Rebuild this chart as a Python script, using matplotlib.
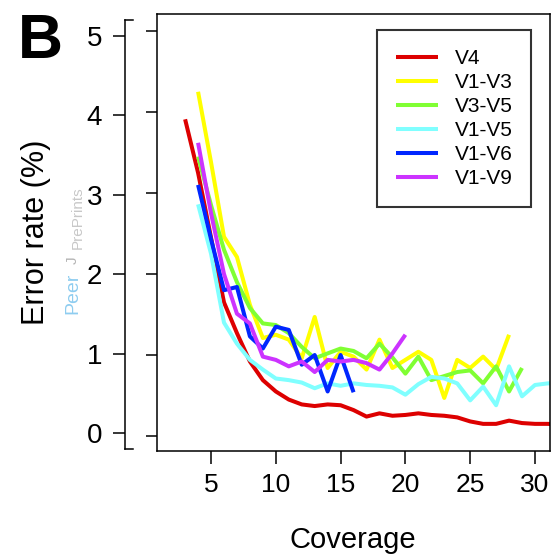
import matplotlib.pyplot as plt

plt.rcParams['font.family'] = ['Liberation Sans', 'DejaVu Sans']

# error rate (%) per coverage
cov_v4 = list(range(3, 33))
err_v4 = [3.91, 3.25, 2.45, 1.65, 1.27, 0.92, 0.69, 0.55, 0.45, 0.39, 0.37, 0.39, 0.38, 0.32, 0.24,
          0.28, 0.25, 0.26, 0.28, 0.26, 0.25, 0.23, 0.18, 0.15, 0.15, 0.19, 0.16, 0.15, 0.15, 0.14]

cov_v1v3 = list(range(4, 29))
err_v1v3 = [4.25, 3.38, 2.46, 2.21, 1.62, 1.21, 1.25, 1.19, 0.96, 1.47, 0.84, 1.04, 0.98, 0.82,
            1.19, 0.84, 0.94, 1.04, 0.94, 0.47, 0.94, 0.84, 0.98, 0.82, 1.25]

cov_v3v5 = list(range(4, 30))
err_v3v5 = [3.45, 2.85, 2.30, 1.90, 1.58, 1.39, 1.37, 1.27, 1.10, 0.96, 1.02, 1.08, 1.05, 0.96,
            1.14, 0.97, 0.77, 0.98, 0.69, 0.74, 0.79, 0.81, 0.65, 0.86, 0.55, 0.84]

cov_v1v5 = list(range(4, 33))
err_v1v5 = [2.86, 2.25, 1.40, 1.14, 0.94, 0.82, 0.71, 0.69, 0.66, 0.59, 0.65, 0.62, 0.65, 0.63,
            0.62, 0.60, 0.51, 0.64, 0.73, 0.71, 0.65, 0.44, 0.61, 0.38, 0.86, 0.49, 0.63, 0.65, 0.65]

cov_v1v6 = list(range(4, 17))
err_v1v6 = [3.10, 2.43, 1.80, 1.84, 1.23, 1.08, 1.35, 1.31, 0.88, 1.00, 0.55, 1.00, 0.54]

cov_v1v9 = list(range(4, 21))
err_v1v9 = [3.62, 2.75, 2.00, 1.51, 1.39, 0.98, 0.94, 0.86, 0.92, 0.79, 0.94, 0.92, 0.94, 0.90,
            0.82, 1.02, 1.25]

labels = ['V4', 'V1-V3', 'V3-V5', 'V1-V5', 'V1-V6', 'V1-V9']
colors = ['#DD0000', '#FFFF00', '#80FF33', '#80FFFF', '#0026FF', '#CC33FF']
series = [(cov_v4, err_v4), (cov_v1v3, err_v1v3), (cov_v3v5, err_v3v5),
          (cov_v1v5, err_v1v5), (cov_v1v6, err_v1v6), (cov_v1v9, err_v1v9)]

W, H = 559, 556
fig = plt.figure(figsize=(W / 100, H / 100), dpi=100)

# main panel
ax = fig.add_axes([157 / W, 1 - 451 / H, 393 / W, 437 / H])
for (x, y), c, lab in zip(series, colors, labels):
    ax.plot(x, y, color=c, lw=2.9, label=lab, solid_capstyle='butt')
ax.set_xlim(0.83, 31.16)
ax.set_ylim(-0.185, 5.21)
ax.set_xticks([5, 10, 15, 20, 25, 30])
ax.set_yticks([0, 1, 2, 3, 4, 5])
ax.tick_params(axis='x', length=9.5, width=1.1, pad=6, labelsize=19)
ax.tick_params(axis='y', length=8, width=1.1, labelleft=False)
for s in ax.spines.values():
    s.set_linewidth(1.1)

leg = ax.legend(loc='upper right', bbox_to_anchor=(0.952, 0.963), fontsize=15,
                handlelength=2.0, handletextpad=0.8, labelspacing=0.24,
                borderpad=0.9, borderaxespad=0, fancybox=False, framealpha=1)
leg.get_frame().set_edgecolor('#333333')
leg.get_frame().set_linewidth(1.5)

# leftover axis of the neighbouring panel that carries the y labels
ax_old = fig.add_axes([125 / W, 1 - 449 / H, 8 / W, 429 / H])
ax_old.set_ylim(-0.2, 5.2)
ax_old.set_yticks([0, 1, 2, 3, 4, 5])
ax_old.set_xticks([])
ax_old.spines['right'].set_visible(False)
for s in ax_old.spines.values():
    s.set_linewidth(1.1)
ax_old.tick_params(axis='y', length=8.5, width=1.1, pad=8, labelsize=20)
ax_old.patch.set_alpha(0)

fig.text(36 / W, 1 - 232 / H, 'Error rate (%)', rotation=90, ha='center', va='center',
         fontsize=22)
fig.text(353 / W, 1 - 548 / H, 'Coverage', ha='center', va='baseline', fontsize=21)
fig.text(18 / W, 1 - 58 / H, 'B', ha='left', va='baseline', fontsize=45, fontweight='bold')

# watermark
fig.text(73 / W, 1 - 314 / H, 'Peer', rotation=90, ha='center', va='bottom',
         fontsize=14, color='#8fcdf0')
fig.text(73 / W, 1 - 264 / H, 'J', rotation=90, ha='center', va='bottom',
         fontsize=11, color='#b4b4b4')
fig.text(78 / W, 1 - 249 / H, 'PrePrints', rotation=90, ha='center', va='bottom',
         fontsize=11, color='#c8c8c8')

plt.savefig('out.png', dpi=100)
